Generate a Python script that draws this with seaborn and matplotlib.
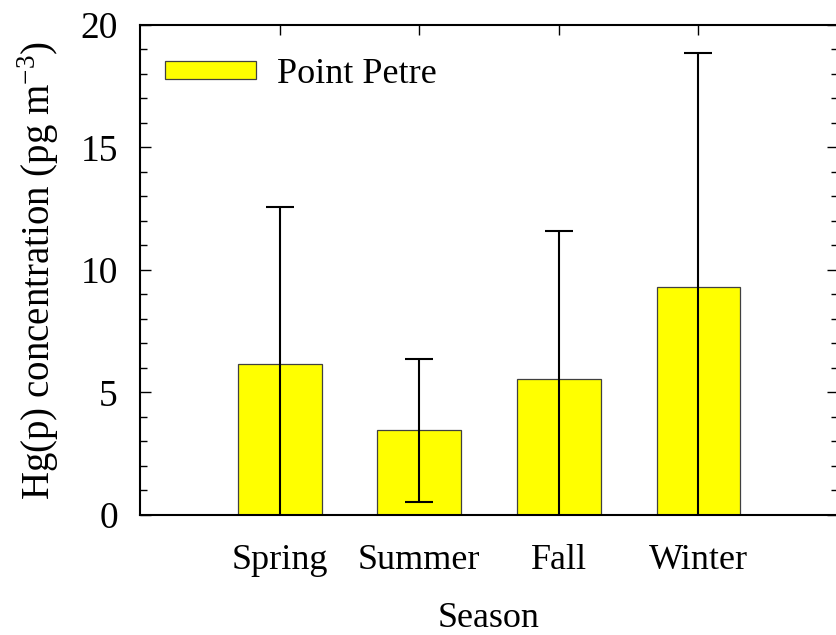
import matplotlib
matplotlib.use('Agg')
import matplotlib.pyplot as plt
import seaborn as sns
import pandas as pd
from matplotlib.ticker import MultipleLocator

# values
seasons = ['Spring', 'Summer', 'Fall', 'Winter']
hgp_mean = [6.15, 3.45, 5.55, 9.3]
hgp_err = [6.42, 2.9, 6.05, 9.57]

df = pd.DataFrame({'Season': seasons, 'Hgp': hgp_mean})

sns.set_style('ticks')
plt.rcParams['font.family'] = ['Liberation Serif', 'DejaVu Serif']
plt.rcParams['mathtext.fontset'] = 'custom'
plt.rcParams['mathtext.rm'] = 'Liberation Serif'
for k in ['text.color', 'axes.labelcolor', 'xtick.color', 'ytick.color']:
    plt.rcParams[k] = 'black'

fig = plt.figure(figsize=(8.36, 6.35), dpi=100)
ax = fig.add_axes([0.1675, 0.189, 0.835, 0.7717])

sns.barplot(data=df, x='Season', y='Hgp', color='#ffff00', width=0.6,
            edgecolor='#404040', linewidth=0.9, saturation=1,
            label='Point Petre', errorbar=None, ax=ax)
ax.errorbar(range(len(seasons)), hgp_mean, yerr=hgp_err, fmt='none',
            ecolor='black', elinewidth=1.5, capsize=10, capthick=1.5)

ax.set_xlim(-1, 4)
ax.set_ylim(0, 20)
ax.yaxis.set_major_locator(MultipleLocator(5))
ax.yaxis.set_minor_locator(MultipleLocator(1))

for s in ax.spines.values():
    s.set_visible(True)
    s.set_linewidth(1.5)
    s.set_color('black')

ax.tick_params(axis='y', which='both', direction='in', left=True, right=True,
               labelsize=27, pad=16)
ax.tick_params(axis='y', which='major', length=8, width=1)
ax.tick_params(axis='y', which='minor', length=5, width=1)
ax.tick_params(axis='x', which='major', direction='in', top=True, bottom=False,
               length=7, width=1, labelsize=26, pad=21)

ax.set_xlabel('Season', fontsize=26, labelpad=18)
ax.set_ylabel('Hg(p) concentration (pg m$^{-3}$)', fontsize=28, labelpad=14)

ax.legend(loc='upper left', frameon=False, fontsize=26, handlelength=2.5,
          handleheight=0.4, handletextpad=0.6, borderaxespad=0.3,
          bbox_to_anchor=(0.0, 0.985))

fig.savefig('out.png', dpi=100)
